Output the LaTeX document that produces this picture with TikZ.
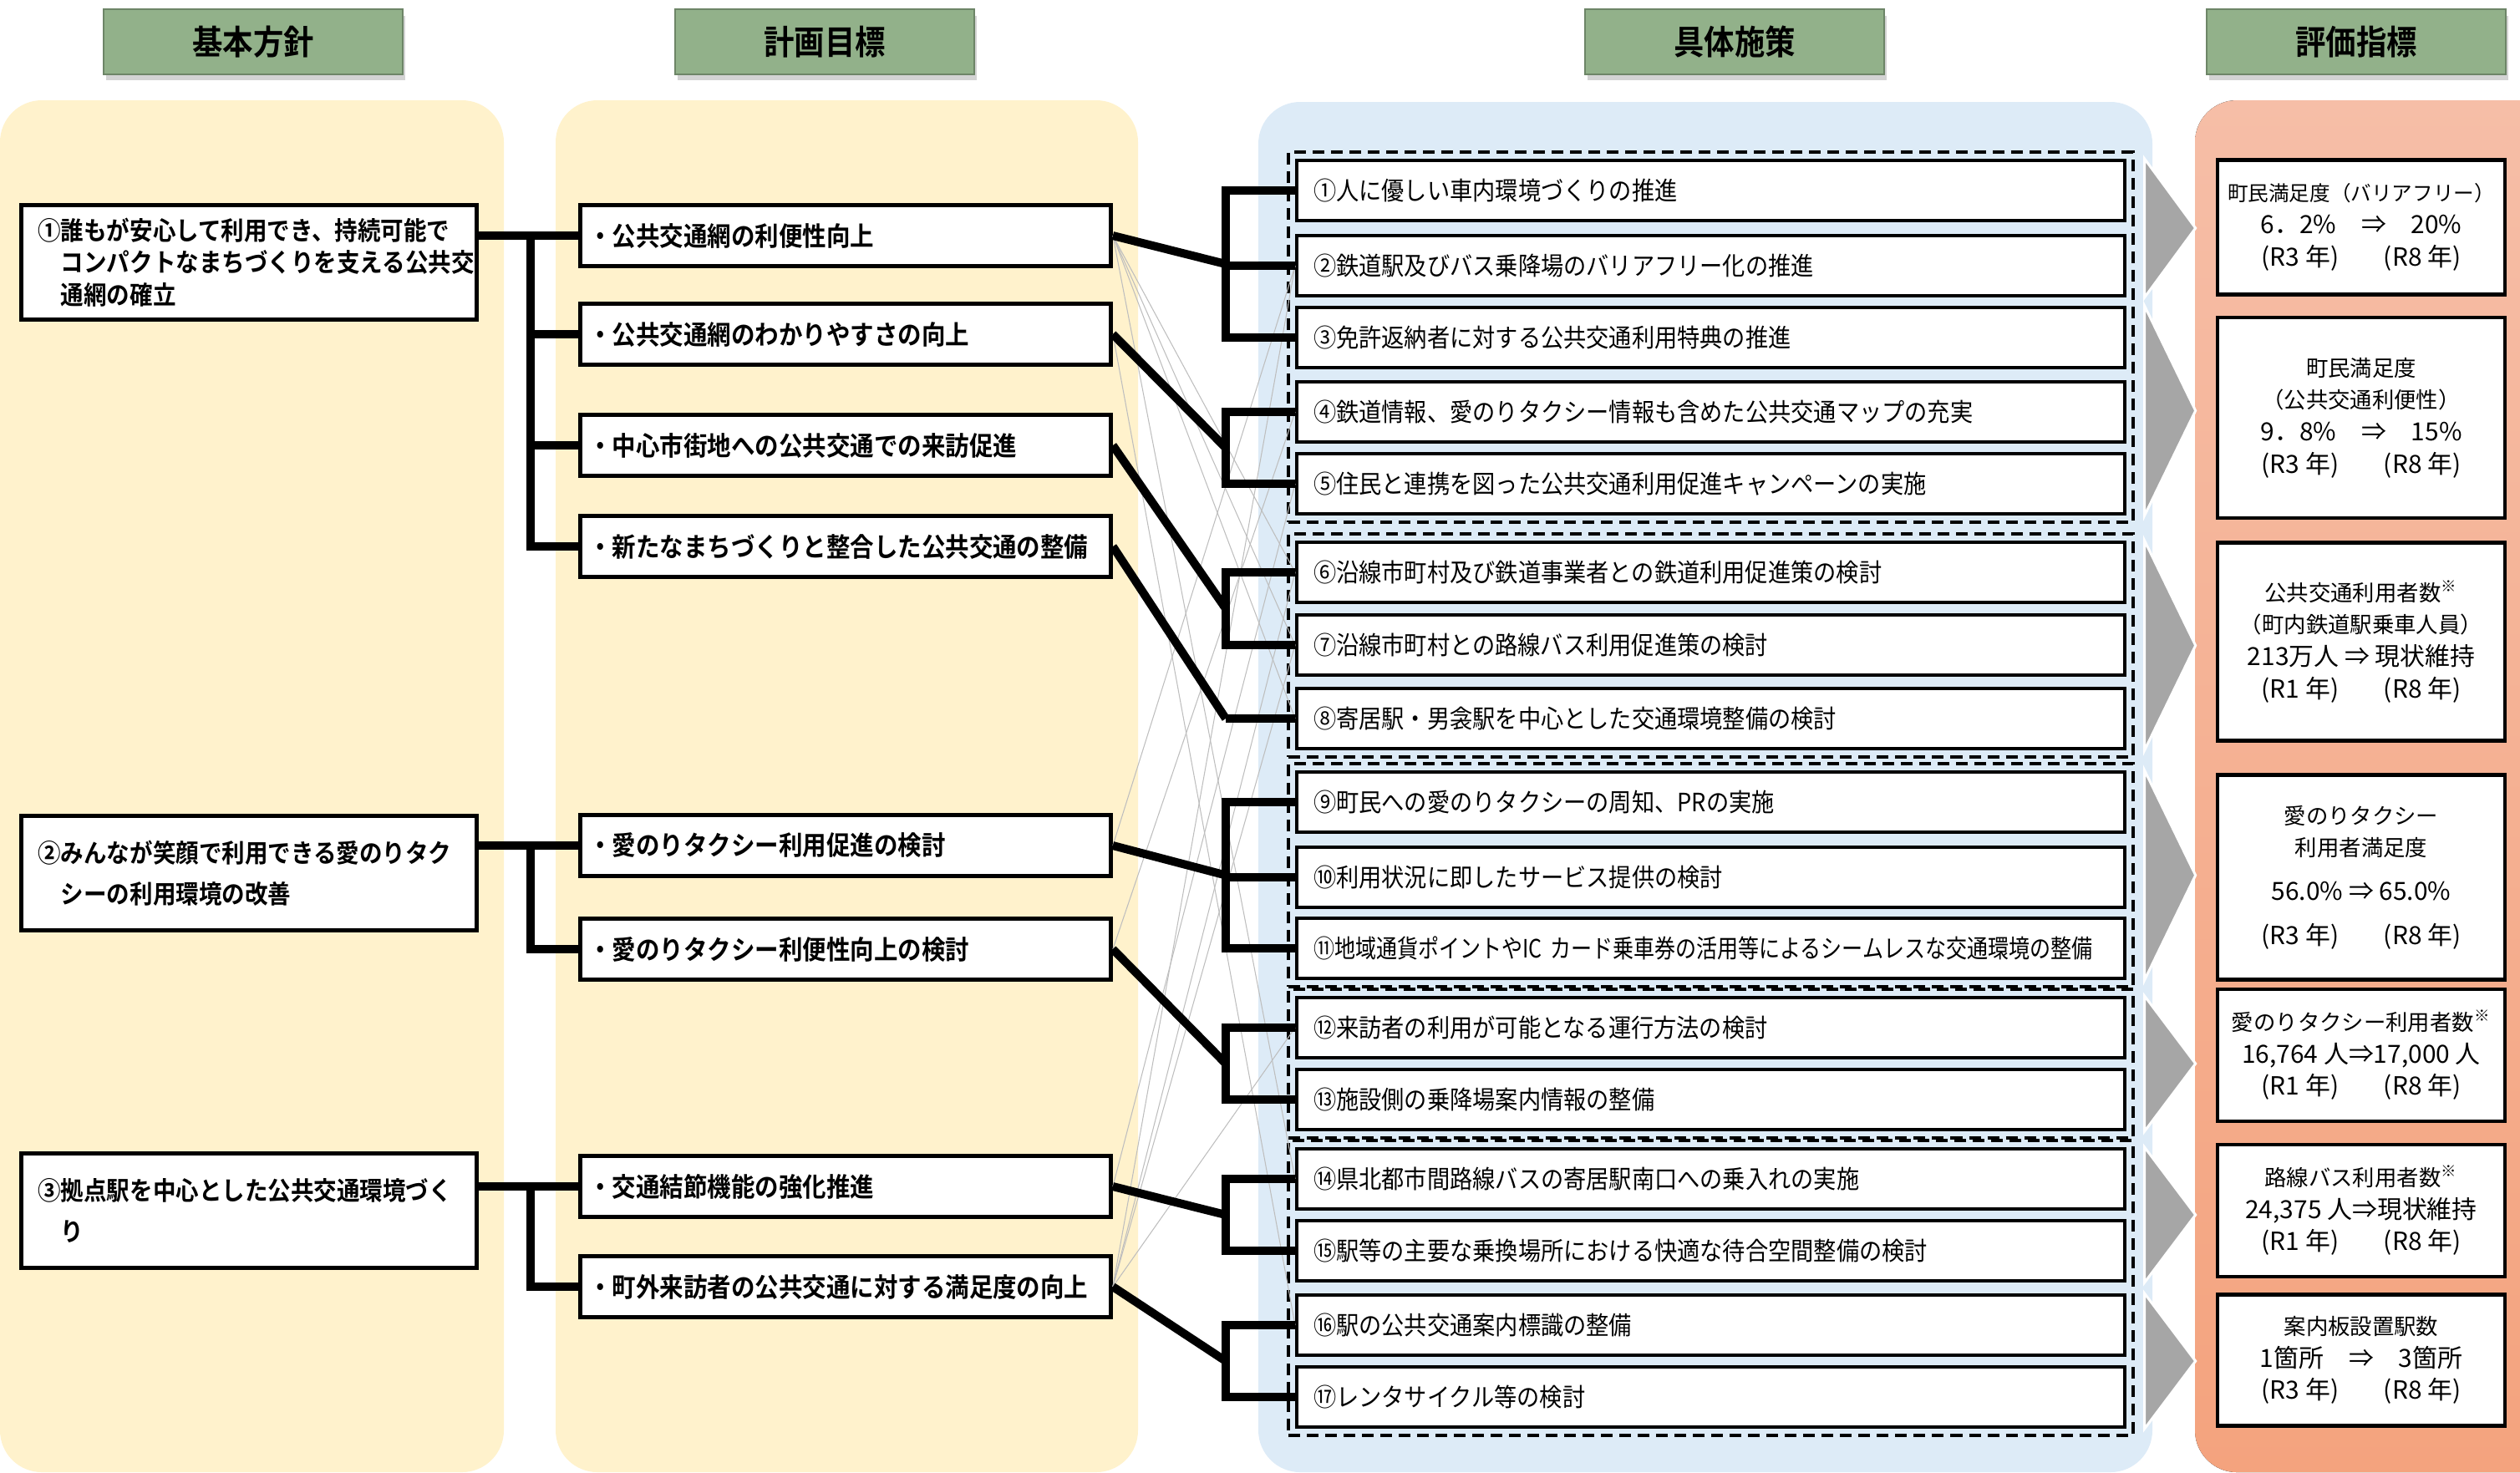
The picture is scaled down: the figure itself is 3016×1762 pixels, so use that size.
\documentclass[tikz,border=0pt]{standalone}
\usepackage{fontspec}
\setmainfont{Noto Sans CJK JP}
\newfontfamily\condgoth[FakeStretch=0.9]{Noto Sans CJK JP}
\newfontfamily\condgothb[FakeStretch=0.9]{Noto Sans CJK JP Bold}
\newcommand\numtxt[1]{{\fontsize{8.5}{11}\selectfont #1}}
\usetikzlibrary{positioning,fit,calc,shadows}
\definecolor{hdrgreen}{RGB}{146,177,138}
\definecolor{planyellow}{RGB}{255,242,204}
\definecolor{planblue}{RGB}{221,235,247}
\definecolor{evaltop}{RGB}{246,190,167}
\definecolor{evalbottom}{RGB}{244,163,126}
\definecolor{chevgray}{RGB}{166,166,166}
\definecolor{linkgray}{RGB}{190,190,190}
\begin{document}
\begin{tikzpicture}[x=0.01cm,y=-0.01cm,
 hdr/.style={fill=hdrgreen,draw=hdrgreen!75!black,line width=0.02cm,minimum width=3.57cm,minimum height=0.77cm,
  font=\fontsize{11.5}{13}\condgothb,drop shadow={shadow xshift=0.03cm,shadow yshift=-0.07cm,opacity=0.35}},
 panel/.style={rounded corners=0.5cm},
 policy/.style={draw,line width=0.045cm,fill=white,minimum width=5.45cm,minimum height=1.37cm,text width=5.05cm,inner xsep=0.2cm,align=left},
 goal/.style={draw,line width=0.045cm,fill=white,anchor=west,minimum height=0.73cm,text width=6.15cm,inner xsep=0.1cm,align=left,font=\fontsize{9}{11}\condgothb},
 measure/.style={draw,line width=0.04cm,fill=white,anchor=west,minimum height=0.72cm,text width=9.5cm,inner xsep=0.2cm,align=left,font=\fontsize{8.6}{10}\condgoth},
 indic/.style={draw,line width=0.045cm,fill=white,minimum width=3.44cm,align=center,font=\fontsize{7.5}{11}\selectfont},
 grp/.style={draw,line width=0.04cm,dash pattern=on 0.14cm off 0.08cm,inner sep=0.08cm},
 chev/.style={fill=chevgray,draw=white,line width=0.03cm},
 tie/.style={line width=0.1cm},
 link/.style={draw=linkgray,line width=0.3pt}]
\useasboundingbox (0,0) rectangle (3016,1762);
\fill[panel,planyellow] (0,120) rectangle (603,1762);
\fill[panel,planyellow] (665,120) rectangle (1362,1762);
\fill[panel,planblue] (1506,122) rectangle (2576,1762);
\fill[panel,top color=evaltop,bottom color=evalbottom] (2627,120) rectangle (3070,1762);

\node[hdr] (h1) at (303,50) {基本方針};
\node[hdr] (h2) at (987,50) {計画目標};
\node[hdr] (h3) at (2076,50) {具体施策};
\node[hdr] (h4) at (2820,50) {評価指標};

\node[policy,font=\fontsize{8.7}{11}\condgothb] (p1) at (298,314) {①誰もが安心して利用でき、持続可能で\\\phantom{①}コンパクトなまちづくりを支える公共交\\\phantom{①}通網の確立};
\node[policy,font=\fontsize{8.7}{14}\condgothb] (p2) at (298,1045) {②みんなが笑顔で利用できる愛のりタク\\\phantom{②}シーの利用環境の改善};
\node[policy,font=\fontsize{8.7}{14}\condgothb] (p3) at (298,1449) {③拠点駅を中心とした公共交通環境づく\\\phantom{③}り};

\node[goal] (g1) at (692,282) {・公共交通網の利便性向上};
\node[goal] (g2) at (692,400) {・公共交通網のわかりやすさの向上};
\node[goal] (g3) at (692,533) {・中心市街地への公共交通での来訪促進};
\node[goal] (g4) at (692,654) {・新たなまちづくりと整合した公共交通の整備};
\node[goal] (g5) at (692,1012) {・愛のりタクシー利用促進の検討};
\node[goal] (g6) at (692,1136) {・愛のりタクシー利便性向上の検討};
\node[goal] (g7) at (692,1420) {・交通結節機能の強化推進};
\node[goal] (g8) at (692,1540) {・町外来訪者の公共交通に対する満足度の向上};

\node[measure] (m1) at (1550,228) {①人に優しい車内環境づくりの推進};
\node[measure] (m2) at (1550,318) {②鉄道駅及びバス乗降場のバリアフリー化の推進};
\node[measure] (m3) at (1550,404) {③免許返納者に対する公共交通利用特典の推進};
\node[measure] (m4) at (1550,493) {④鉄道情報、愛のりタクシー情報も含めた公共交通マップの充実};
\node[measure] (m5) at (1550,579) {⑤住民と連携を図った公共交通利用促進キャンペーンの実施};
\node[measure] (m6) at (1550,685) {⑥沿線市町村及び鉄道事業者との鉄道利用促進策の検討};
\node[measure] (m7) at (1550,772) {⑦沿線市町村との路線バス利用促進策の検討};
\node[measure] (m8) at (1550,860) {⑧寄居駅・男衾駅を中心とした交通環境整備の検討};
\node[measure] (m9) at (1550,960) {⑨町民への愛のりタクシーの周知、PRの実施};
\node[measure] (m10) at (1550,1050) {⑩利用状況に即したサービス提供の検討};
\node[measure] (m11) at (1550,1135) {\scalebox{0.92}[1]{⑪地域通貨ポイントやIC カード乗車券の活用等によるシームレスな交通環境の整備}};
\node[measure] (m12) at (1550,1230) {⑫来訪者の利用が可能となる運行方法の検討};
\node[measure] (m13) at (1550,1316) {⑬施設側の乗降場案内情報の整備};
\node[measure] (m14) at (1550,1411) {⑭県北都市間路線バスの寄居駅南口への乗入れの実施};
\node[measure] (m15) at (1550,1497) {⑮駅等の主要な乗換場所における快適な待合空間整備の検討};
\node[measure] (m16) at (1550,1586) {⑯駅の公共交通案内標識の整備};
\node[measure] (m17) at (1550,1672) {⑰レンタサイクル等の検討};

\foreach \t/\b [count=\i] in {m1/m5,m6/m8,m9/m11,m12/m13,m14/m17}
 \node[grp,fit=(\t)(\b)] (grp\i) {};
\foreach \t/\b in {m1/m2,m3/m5,m6/m8,m9/m11,m12/m13,m14/m15,m16/m17}
 \path[chev] ([xshift=0.22cm]\t.north east) -- ($([xshift=0.83cm]\t.north east)!0.5!([xshift=0.83cm]\b.south east)$)
  -- ([xshift=0.22cm]\b.south east) -- cycle;

\node[indic,minimum height=1.61cm] (e1) at (2826,272) {{\fontsize{7}{11}\selectfont 町民満足度（バリアフリー）}\\\numtxt{6．2\%\quad⇒\quad20\%}\\\numtxt{(R3 年)\hspace{1.8em}(R8 年)}};
\node[indic,minimum height=2.40cm] (e2) at (2826,500) {町民満足度\\（公共交通利便性）\\\numtxt{9．8\%\quad⇒\quad15\%}\\\numtxt{(R3 年)\hspace{1.8em}(R8 年)}};
\node[indic,minimum height=2.37cm] (e3) at (2826,768) {公共交通利用者数\textsuperscript{※}\\（町内鉄道駅乗車人員）\\\numtxt{213万人 ⇒ 現状維持}\\\numtxt{(R1 年)\hspace{1.8em}(R8 年)}};
\node[indic,minimum height=2.45cm] (e4) at (2826,1050) {愛のりタクシー\\利用者満足度\\[4pt]\numtxt{56.0\% ⇒ 65.0\%}\\[4pt]\numtxt{(R3 年)\hspace{1.8em}(R8 年)}};
\node[indic,minimum height=1.58cm] (e5) at (2826,1263) {愛のりタクシー利用者数\textsuperscript{※}\\\numtxt{16,764 人⇒17,000 人}\\\numtxt{(R1 年)\hspace{1.8em}(R8 年)}};
\node[indic,minimum height=1.58cm] (e6) at (2826,1449) {路線バス利用者数\textsuperscript{※}\\\numtxt{24,375 人⇒現状維持}\\\numtxt{(R1 年)\hspace{1.8em}(R8 年)}};
\node[indic,minimum height=1.57cm] (e7) at (2826,1628) {案内板設置駅数\\\numtxt{1箇所\quad⇒\quad3箇所}\\\numtxt{(R3 年)\hspace{1.8em}(R8 年)}};

\foreach \g/\m in {g1/m6,g1/m7,g1/m8,g1/m14,g2/m16,g5/m2,g6/m4,g7/m5,g8/m2,g8/m6,g8/m7,g8/m12}
 \draw[link] (\g.east) -- (\m.west);

\coordinate (pbus) at (635,0);
\coordinate (mbus) at (1467,0);
\foreach \p/\a/\b in {p1/g1/g4,p2/g5/g6,p3/g7/g8}{
 \draw[tie] (\p.east |- \a.west) -- (\a.west);
 \draw[tie] (pbus |- \a.west) |- (\b.west);}
\draw[tie] (pbus |- g2.west) -- (g2.west);
\draw[tie] (pbus |- g3.west) -- (g3.west);
\foreach \g/\a/\b in {g1/m1/m3,g2/m4/m5,g3/m6/m7,g4/m8/m8,g5/m9/m11,g6/m12/m13,g7/m14/m15,g8/m16/m17}{
 \draw[tie] (\a.west) -- (mbus |- \a.west) -- (mbus |- \b.west) -- (\b.west);
 \draw[tie] (\g.east) -- ($(mbus |- \a.west)!0.5!(mbus |- \b.west)$);}
\draw[tie] (m2.west) -- (mbus |- m2.west);
\draw[tie] (m10.west) -- (mbus |- m10.west);
\end{tikzpicture}
\end{document}
